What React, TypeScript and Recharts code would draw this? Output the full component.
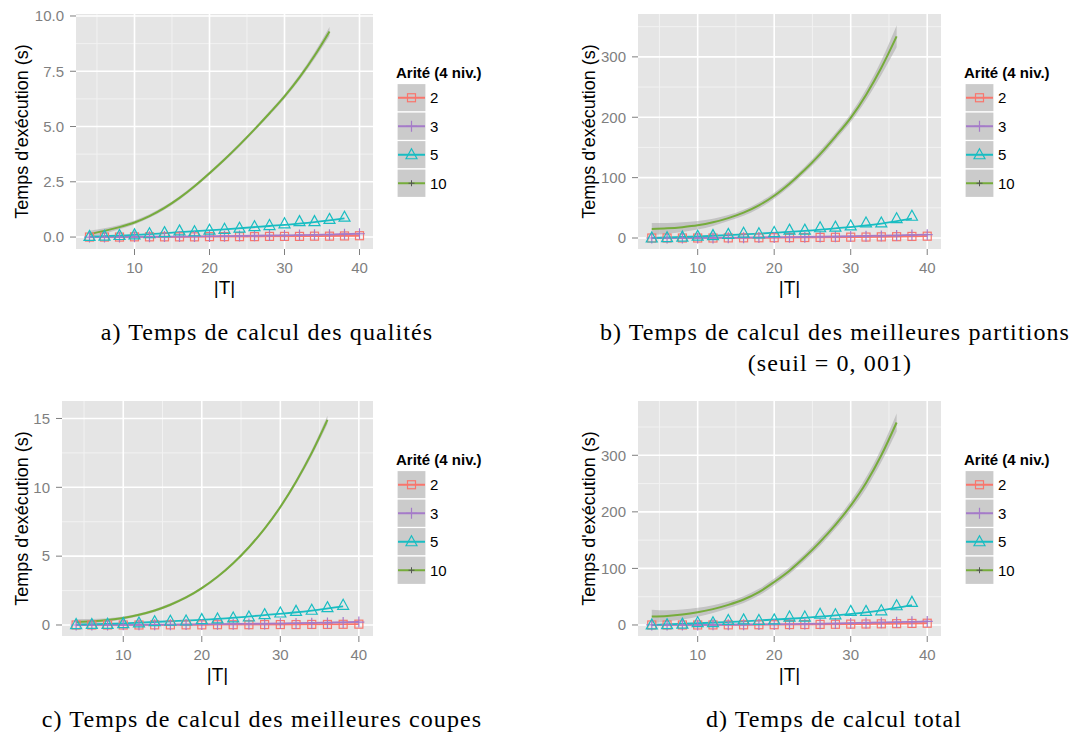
import * as React from 'react';
import { ComposedChart, Line, Area, Scatter, XAxis, YAxis, CartesianGrid } from 'recharts';

const SANS = '"Liberation Sans", Arial, Helvetica, sans-serif';
const SERIF = '"Liberation Serif", "Times New Roman", serif';
const AXIS_GREY = '#7F7F7F';

// series: arity levels
const LEVELS = ['2', '3', '5', '10'];
const COLORS = ['#F8766D', '#A57BC9', '#19BDC2', '#76AC3B'];
const SHAPES = ['square', 'plus', 'triangle', 'dot'];

// |T| positions
const X_PTS = [4, 6, 8, 10, 12, 14, 16, 18, 20, 22, 24, 26, 28, 30, 32, 34, 36, 38, 40];
const X_TRI = [4, 6, 8, 10, 12, 14, 16, 18, 20, 22, 24, 26, 28, 30, 32, 34, 36, 38];
const X_GREEN = [4, 6, 8, 10, 12, 14, 16, 18, 20, 22, 24, 26, 28, 30, 32, 34, 36];
const X_FIT = [4, 10, 16, 22, 28, 34, 40];
const X_FIT5 = [4, 10, 16, 22, 28, 34, 38];
const X_MAJOR = [10, 20, 30, 40];
const X_MINOR = [5, 15, 25, 35];

// a) qualités
const A_SQ = [0, 0, 0, 0.01, 0.01, 0.01, 0.01, 0.01, 0.02, 0.02, 0.02, 0.02, 0.03, 0.03, 0.03, 0.04, 0.04, 0.05, 0.06];
const A_PLUS = [0, 0, 0, 0.01, 0.01, 0.02, 0.02, 0.03, 0.03, 0.04, 0.05, 0.06, 0.07, 0.08, 0.09, 0.1, 0.11, 0.13, 0.15];
const A_TRI = [0.03, 0.04, 0.07, 0.1, 0.15, 0.2, 0.28, 0.24, 0.31, 0.35, 0.4, 0.47, 0.52, 0.6, 0.7, 0.7, 0.8, 0.9];
const A_FIT2 = [0, 0.005, 0.01, 0.02, 0.03, 0.04, 0.06];
const A_FIT3 = [0, 0.01, 0.02, 0.04, 0.07, 0.1, 0.15];
const A_FIT5 = [0.02, 0.1, 0.22, 0.35, 0.5, 0.68, 0.85];
const A_GREEN = [0.14, 0.28, 0.45, 0.66, 0.95, 1.32, 1.77, 2.3, 2.89, 3.51, 4.17, 4.87, 5.6, 6.36, 7.22, 8.2, 9.3];
const A_SE = [0.15, 0.12, 0.1, 0.09, 0.08, 0.08, 0.08, 0.08, 0.08, 0.08, 0.08, 0.08, 0.09, 0.1, 0.12, 0.15, 0.2];

// b) meilleures partitions
const B_SQ = [0, 0, 0, 0, 0, 0.2, 0.3, 0.4, 0.5, 0.6, 0.8, 1.0, 1.2, 1.4, 1.6, 1.9, 2.2, 2.6, 3.0];
const B_PLUS = [0, 0, 0, 0.1, 0.2, 0.3, 0.5, 0.7, 0.9, 1.1, 1.4, 1.7, 2.1, 2.5, 3.0, 3.5, 4.1, 4.8, 5.5];
const B_TRI = [0, 0.5, 1.5, 3, 4, 6, 8, 7, 9, 13, 13, 17, 18, 20, 25, 25, 32, 36];
const B_FIT2 = [0, 0.1, 0.3, 0.7, 1.2, 2, 3];
const B_FIT3 = [0, 0.3, 0.7, 1.4, 2.5, 4, 5.5];
const B_FIT5 = [0, 2.5, 6, 10, 16, 24, 32];
const B_GREEN = [15, 16, 18, 21, 26, 33, 42, 54, 70, 90, 113, 139, 168, 199, 237, 282, 334];
const B_SE = [10, 9, 8, 7, 6, 5, 5, 5, 5, 5, 5, 6, 6, 7, 9, 12, 18];

// c) meilleures coupes
const C_SQ = [0, 0, 0, 0, 0, 0.01, 0.01, 0.01, 0.01, 0.02, 0.02, 0.02, 0.03, 0.03, 0.03, 0.04, 0.04, 0.05, 0.06];
const C_PLUS = [0, 0, 0, 0.01, 0.01, 0.02, 0.02, 0.03, 0.04, 0.05, 0.06, 0.07, 0.08, 0.1, 0.11, 0.13, 0.15, 0.18, 0.21];
const C_TRI = [0.03, 0.04, 0.05, 0.1, 0.15, 0.24, 0.27, 0.29, 0.39, 0.44, 0.51, 0.58, 0.75, 0.87, 0.99, 1.07, 1.26, 1.43];
const C_FIT2 = [0, 0.005, 0.01, 0.02, 0.03, 0.04, 0.06];
const C_FIT3 = [0, 0.01, 0.03, 0.06, 0.1, 0.15, 0.22];
const C_FIT5 = [0.03, 0.12, 0.27, 0.45, 0.72, 1.05, 1.35];
const C_GREEN = [0.22, 0.27, 0.36, 0.51, 0.74, 1.05, 1.47, 2.0, 2.68, 3.5, 4.49, 5.65, 7.0, 8.57, 10.4, 12.5, 14.9];
const C_SE = [0.2, 0.16, 0.13, 0.11, 0.1, 0.1, 0.1, 0.1, 0.1, 0.1, 0.1, 0.11, 0.12, 0.14, 0.17, 0.22, 0.3];

// d) total
const D_SQ = [0, 0, 0, 0, 0.1, 0.2, 0.3, 0.4, 0.5, 0.7, 0.8, 1.0, 1.2, 1.5, 1.7, 2.0, 2.3, 2.7, 3.1];
const D_PLUS = [0, 0, 0, 0.1, 0.2, 0.4, 0.6, 0.8, 1.0, 1.3, 1.6, 2.0, 2.4, 2.9, 3.4, 4.0, 4.7, 5.5, 6.3];
const D_TRI = [0, 0.5, 1.5, 4, 4, 8, 9, 8, 9, 14, 14, 19, 18, 24, 24, 25, 34, 40];
const D_FIT2 = [0, 0.1, 0.3, 0.7, 1.3, 2.1, 3.1];
const D_FIT3 = [0, 0.3, 0.8, 1.6, 2.8, 4.5, 6.3];
const D_FIT5 = [0, 3, 6.5, 11, 17, 26, 35];
const D_GREEN = [15, 16, 18.5, 22.5, 28, 35.5, 45, 58, 76, 96, 120, 147, 177, 211, 251, 300, 358];
const D_SE = [12, 10, 9, 8, 7, 6, 6, 6, 6, 6, 6, 7, 7, 8, 10, 12, 16];

// y axis ticks
const A_TICKS = [0, 2.5, 5, 7.5, 10];
const A_MINOR = [1.25, 3.75, 6.25, 8.75];
const BD_TICKS = [0, 100, 200, 300];
const BD_MINOR = [50, 150, 250, 350];
const C_TICKS = [0, 5, 10, 15];
const C_MINOR = [2.5, 7.5, 12.5];

const zip = (xs: number[], ys: number[]) => xs.map((x, i) => ({ x, y: ys[i] }));

const marker = (kind: string, cx: number, cy: number, color: string, key?: string) => {
  if (kind === 'square')
    return <rect key={key} x={cx - 4} y={cy - 4} width={8} height={8} fill="none" stroke={color} strokeWidth={1.2} />;
  if (kind === 'plus')
    return (
      <path key={key} d={`M${cx - 5.5},${cy}H${cx + 5.5}M${cx},${cy - 5.5}V${cy + 5.5}`} stroke={color} strokeWidth={1.2} />
    );
  if (kind === 'triangle')
    return (
      <path key={key} d={`M${cx},${cy - 6}L${cx + 5.5},${cy + 4}L${cx - 5.5},${cy + 4}Z`} fill="none" stroke={color} strokeWidth={1.2} />
    );
  return <path key={key} d={`M${cx - 3},${cy}H${cx + 3}M${cx},${cy - 3}V${cy + 3}`} stroke="#555" strokeWidth={1} />;
};

const shapeFor = (i: number) => (props: any) => {
  const { cx, cy } = props;
  if (cx == null || cy == null) return <g />;
  return marker(SHAPES[i], cx, cy, COLORS[i]);
};

interface PanelDef {
  left: number;
  top: number;
  width: number;
  axisW: number;
  yDomain: [number, number];
  yTicks: number[];
  yMinor: number[];
  fmt: (v: number) => string;
  sq: number[];
  plus: number[];
  tri: number[];
  fit2: number[];
  fit3: number[];
  fit5: number[];
  green: number[];
  se: number[];
}

const PANELS: PanelDef[] = [
  { left: 0, top: 0, width: 378, axisW: 76, yDomain: [-0.54, 10.09], yTicks: A_TICKS, yMinor: A_MINOR, fmt: (v) => v.toFixed(1),
    sq: A_SQ, plus: A_PLUS, tri: A_TRI, fit2: A_FIT2, fit3: A_FIT3, fit5: A_FIT5, green: A_GREEN, se: A_SE },
  { left: 567, top: 0, width: 379, axisW: 71, yDomain: [-18.2, 371], yTicks: BD_TICKS, yMinor: BD_MINOR, fmt: (v) => String(v),
    sq: B_SQ, plus: B_PLUS, tri: B_TRI, fit2: B_FIT2, fit3: B_FIT3, fit5: B_FIT5, green: B_GREEN, se: B_SE },
  { left: 0, top: 387, width: 378, axisW: 62, yDomain: [-0.8, 16.27], yTicks: C_TICKS, yMinor: C_MINOR, fmt: (v) => String(v),
    sq: C_SQ, plus: C_PLUS, tri: C_TRI, fit2: C_FIT2, fit3: C_FIT3, fit5: C_FIT5, green: C_GREEN, se: C_SE },
  { left: 567, top: 387, width: 379, axisW: 71, yDomain: [-19.5, 396], yTicks: BD_TICKS, yMinor: BD_MINOR, fmt: (v) => String(v),
    sq: D_SQ, plus: D_PLUS, tri: D_TRI, fit2: D_FIT2, fit3: D_FIT3, fit5: D_FIT5, green: D_GREEN, se: D_SE },
];

const KeyLegend = ({ left, top }: { left: number; top: number }) => (
  <svg width={120} height={150} style={{ position: 'absolute', left, top }}>
    <text x={3} y={19} fontFamily={SANS} fontWeight="bold" fontSize={15}>Arité (4 niv.)</text>
    {LEVELS.map((lv, i) => {
      const y0 = 24.5 + i * 28.5;
      const cy = y0 + 14.25;
      return (
        <g key={lv}>
          <rect x={4} y={y0} width={29} height={28.5} fill="#CBCBCB" stroke="#FFFFFF" strokeWidth={1.2} />
          <line x1={5} x2={32} y1={cy} y2={cy} stroke={COLORS[i]} strokeWidth={2} />
          {marker(SHAPES[i], 18.5, cy, COLORS[i])}
          <text x={37} y={cy + 5.4} fontFamily={SANS} fontSize={15}>{lv}</text>
        </g>
      );
    })}
  </svg>
);

const Panel = ({ p }: { p: PanelDef }) => {
  const band = X_GREEN.map((x, i) => ({ x, band: [p.green[i] - p.se[i], p.green[i] + p.se[i]] }));
  return (
    <div style={{ position: 'absolute', left: p.left, top: p.top }}>
      <ComposedChart width={p.width} height={300} margin={{ top: 14, right: 5, bottom: 0, left: 0 }}>
        <CartesianGrid fill="#E5E5E5" stroke="#F2F2F2" strokeWidth={1} horizontalValues={p.yMinor} verticalValues={X_MINOR} />
        <CartesianGrid fill="none" stroke="#FFFFFF" strokeWidth={1.6} horizontalValues={p.yTicks} verticalValues={X_MAJOR} />
        <XAxis
          type="number"
          dataKey="x"
          domain={[2.2, 41.8]}
          ticks={X_MAJOR}
          allowDataOverflow
          interval={0}
          height={51}
          tickSize={6}
          tickMargin={7}
          axisLine={false}
          tickLine={{ stroke: AXIS_GREY }}
          tick={{ fill: AXIS_GREY, fontSize: 15, fontFamily: SANS }}
          label={{ value: '|T|', position: 'insideBottom', offset: 6, style: { fill: '#000', fontSize: 19, fontFamily: SANS } }}
        />
        <YAxis
          type="number"
          domain={p.yDomain}
          ticks={p.yTicks}
          allowDataOverflow
          interval={0}
          width={p.axisW}
          tickSize={6}
          tickMargin={6}
          axisLine={false}
          tickLine={{ stroke: AXIS_GREY }}
          tick={{ fill: AXIS_GREY, fontSize: 15, fontFamily: SANS }}
          tickFormatter={p.fmt}
          label={{
            value: "Temps d'exécution (s)",
            angle: -90,
            position: 'insideLeft',
            offset: 22,
            style: { fill: '#000', fontSize: 18, fontFamily: SANS, textAnchor: 'middle' },
          }}
        />
        <Scatter data={zip(X_PTS, p.sq)} dataKey="y" shape={shapeFor(0)} isAnimationActive={false} />
        <Scatter data={zip(X_PTS, p.plus)} dataKey="y" shape={shapeFor(1)} isAnimationActive={false} />
        <Scatter data={zip(X_TRI, p.tri)} dataKey="y" shape={shapeFor(2)} isAnimationActive={false} />
        <Area data={band} dataKey="band" type="monotone" stroke="none" fill="#999999" fillOpacity={0.45} isAnimationActive={false} />
        <Line data={zip(X_FIT, p.fit2)} dataKey="y" type="monotone" stroke={COLORS[0]} strokeWidth={1.8} dot={false} isAnimationActive={false} />
        <Line data={zip(X_FIT, p.fit3)} dataKey="y" type="monotone" stroke={COLORS[1]} strokeWidth={1.8} dot={false} isAnimationActive={false} />
        <Line data={zip(X_FIT5, p.fit5)} dataKey="y" type="monotone" stroke={COLORS[2]} strokeWidth={1.8} dot={false} isAnimationActive={false} />
        <Line data={zip(X_GREEN, p.green)} dataKey="y" type="monotone" stroke={COLORS[3]} strokeWidth={2} dot={false} isAnimationActive={false} />
      </ComposedChart>
      <KeyLegend left={p.width - 5 + 20} top={59} />
    </div>
  );
};

const Caption = ({ cx, baseline, children }: { cx: number; baseline: number; children: React.ReactNode }) => (
  <div
    style={{
      position: 'absolute',
      left: cx - 300,
      top: baseline - 20,
      width: 600,
      textAlign: 'center',
      fontFamily: SERIF,
      fontSize: 24,
      letterSpacing: 1.1,
      lineHeight: 1,
      color: '#000',
      whiteSpace: 'nowrap',
    }}
  >
    {children}
  </div>
);

export default function App() {
  return (
    <div style={{ position: 'absolute', left: 0, top: 0, width: 1073, height: 733, background: '#fff', overflow: 'hidden' }}>
      {PANELS.map((p, i) => (
        <Panel key={i} p={p} />
      ))}
      <Caption cx={267} baseline={340}>a) Temps de calcul des qualités</Caption>
      <Caption cx={835} baseline={340}>b) Temps de calcul des meilleures partitions</Caption>
      <Caption cx={830} baseline={371}>(seuil = 0, 001)</Caption>
      <Caption cx={262} baseline={727}>c) Temps de calcul des meilleures coupes</Caption>
      <Caption cx={834} baseline={727}>d) Temps de calcul total</Caption>
    </div>
  );
}
